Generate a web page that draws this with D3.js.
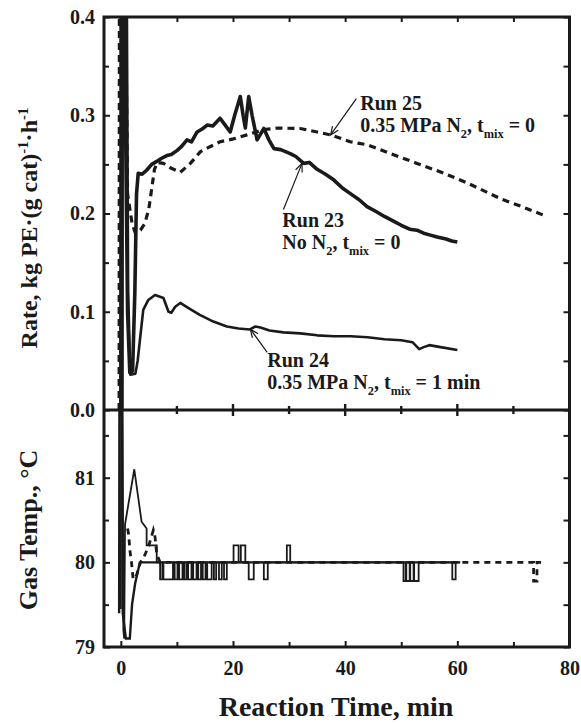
<!DOCTYPE html>
<html>
<head>
<meta charset="utf-8">
<script src="https://cdn.jsdelivr.net/npm/d3@7"></script>
<style>
  body { margin: 0; background: #fff; }
  svg text { font-family: "Liberation Serif", "Times New Roman", serif; font-weight: bold; fill: #1a1a1a; }
</style>
</head>
<body>
<div id="chart"></div>
<script>
// tick values
const timeTicks = [0, 20, 40, 60, 80];
const timeMinor = [10, 30, 50, 70];
const rateTicks = [0, 0.1, 0.2, 0.3, 0.4];
const rateMinor = [0.05, 0.15, 0.25, 0.35];
const tempTicks = [79, 80, 81];
const tempMinor = [79.5, 80.5, 81.5];

// rate curves [time min, kg PE/(g cat)/h]
const rate23 = [[0.0,0.0],[0.05,0.45],[0.55,0.45],[1.2,0.1],[1.6,0.038],[2.1,0.04],[2.5,0.12],[2.8,0.22],[3.1,0.241],[3.8,0.24],[4.6,0.244],[5.5,0.25],[6.4,0.253],[7.2,0.256],[8.2,0.259],[9,0.26],[10,0.264],[10.8,0.268],[11.8,0.275],[12.6,0.273],[13.6,0.283],[14.5,0.286],[15.4,0.29],[16.4,0.289],[17.7,0.297],[18.6,0.29],[19.5,0.283],[20.3,0.3],[21.3,0.319],[21.8,0.3],[22.2,0.287],[22.8,0.319],[23.4,0.3],[24.3,0.275],[25.5,0.2865],[26.4,0.275],[27.3,0.266],[28.5,0.265],[30.2,0.261],[31.2,0.258],[32.6,0.251],[33.6,0.252],[35,0.245],[36.5,0.24],[38,0.234],[39.5,0.226],[41,0.22],[42.5,0.214],[43.9,0.207],[45.5,0.202],[47,0.197],[48.7,0.192],[50,0.188],[51.5,0.184],[52.8,0.183],[54,0.18],[55.2,0.178],[56.4,0.176],[58,0.174],[59,0.172],[60,0.171]];
const rate24 = [[0.3,0.0],[0.35,0.45],[1.05,0.45],[1.3,0.12],[1.7,0.036],[2.6,0.037],[3.0,0.05],[3.4,0.071],[4.0,0.102],[4.9,0.112],[6.1,0.117],[7.6,0.114],[8.5,0.1],[9.0,0.099],[9.7,0.105],[10.6,0.109],[12,0.104],[14,0.097],[16.5,0.09],[18.9,0.085],[21,0.083],[23,0.082],[24,0.085],[24.9,0.084],[26.5,0.081],[29,0.079],[32,0.078],[35,0.076],[38,0.075],[41,0.075],[44,0.074],[47,0.072],[50,0.071],[52,0.069],[53.2,0.062],[54,0.064],[55,0.066],[57,0.064],[60,0.061]];
const rate25 = [[-0.3,0.0],[-0.25,0.45],[0.8,0.45],[1.2,0.22],[1.6,0.205],[2.0,0.19],[2.6,0.18],[3.5,0.183],[4.3,0.19],[5.0,0.205],[5.5,0.225],[6.0,0.245],[6.5,0.252],[7.6,0.251],[9,0.246],[10.6,0.242],[12.4,0.251],[14.2,0.263],[15.9,0.268],[17.7,0.273],[20.1,0.276],[22.5,0.28],[25.5,0.2855],[28,0.287],[32,0.2865],[35,0.283],[37.4,0.28],[40.9,0.273],[43.9,0.27],[48.1,0.261],[52.8,0.251],[57.6,0.241],[61.8,0.231],[67.7,0.215],[71.5,0.207],[75.5,0.198]];

// gas temperature curves [time min, deg C]
const temp23Start = [[0.0,79.45],[0.05,82],[0.3,82],[0.45,79.2],[0.6,79.1],[0.75,80.45],[2.4,81.1],[3.7,80.48],[4.6,80.4],[4.6,80.2],[6.4,80.2],[6.4,80.0],[7.0,80.0]];
// pulses off the 80 degC line: [from, to, level]
const temp23Pulses = [[7.0,7.4,79.8],[7.6,9.3,79.8],[9.6,10.1,79.8],[10.4,11.0,79.8],[11.3,11.7,79.8],[12.0,12.6,79.8],[12.9,13.5,79.8],[13.8,14.3,79.8],[14.6,15.1,79.8],[15.4,16.2,79.8],[16.6,17.0,79.8],[17.5,18.0,79.8],[18.4,18.9,79.8],[20.1,21.0,80.2],[21.4,22.2,80.2],[22.8,23.7,79.8],[25.5,26.2,79.8],[29.6,30.2,80.2],[50.4,50.8,79.78],[50.9,51.5,79.78],[51.6,52.2,79.78],[52.3,53.1,79.78],[59.1,59.7,79.8]];
const temp23End = 60.5;
const temp24 = [[-0.3,79.4],[-0.25,82],[0.2,82],[0.35,79.4],[0.9,79.1],[1.6,79.1],[2.0,79.5],[2.55,79.75],[3.4,80.0],[60.5,80.0]];
const temp25 = [[1.2,80.4],[1.4,80.33],[1.6,80.15],[1.9,80.0],[2.2,79.8],[2.8,79.85],[3.5,80.0],[4.3,80.09],[5.0,80.2],[5.8,80.38],[6.1,80.3],[6.4,80.1],[7,80.0],[73.6,80.0],[73.6,79.78],[74.2,79.78],[74.2,80.0],[75.5,80.0]];

const width = 581, height = 724;
const svg = d3.select('#chart').append('svg').attr('width', width).attr('height', height);

const x = d3.scaleLinear().domain([-3, 80]).range([104, 569.5]);
const yRate = d3.scaleLinear().domain([0, 0.4]).range([410, 17]);
const yTemp = d3.scaleLinear().domain([79, 81.8]).range([647, 410]);
const ink = '#1a1a1a';

svg.append('clipPath').attr('id', 'cTop').append('rect')
  .attr('x', x(-3)).attr('y', yRate(0.4)).attr('width', x(80) - x(-3)).attr('height', yRate(0) - yRate(0.4));
svg.append('clipPath').attr('id', 'cBot').append('rect')
  .attr('x', x(-3)).attr('y', yTemp(81.8)).attr('width', x(80) - x(-3)).attr('height', yTemp(79) - yTemp(81.8));

// curves
const lineR = d3.line().x(d => x(d[0])).y(d => yRate(d[1]));
const lineT = d3.line().x(d => x(d[0])).y(d => yTemp(d[1]));

const gTop = svg.append('g').attr('clip-path', 'url(#cTop)').attr('fill', 'none').attr('stroke', ink).attr('stroke-linejoin', 'round');
gTop.append('path').attr('d', lineR(rate25)).attr('stroke-width', 3.2).attr('stroke-dasharray', '7,5');
gTop.append('path').attr('d', lineR(rate24)).attr('stroke-width', 2.6);
gTop.append('path').attr('d', lineR(rate23)).attr('stroke-width', 3.6);

const temp23 = temp23Start.slice();
temp23Pulses.forEach(p => { temp23.push([p[0], 80], [p[0], p[2]], [p[1], p[2]], [p[1], 80]); });
temp23.push([temp23End, 80]);

const gBot = svg.append('g').attr('clip-path', 'url(#cBot)').attr('fill', 'none').attr('stroke', ink);
gBot.append('path').attr('d', lineT(temp25)).attr('stroke-width', 2.8).attr('stroke-dasharray', '6,5');
gBot.append('path').attr('d', lineT(temp24)).attr('stroke-width', 2.4);
gBot.append('path').attr('d', lineT(temp23)).attr('stroke-width', 1.8);

// axes
function clean(g) { g.select('.domain').remove(); g.selectAll('line').attr('stroke', ink).attr('stroke-width', 2); }
function labels(g) { g.selectAll('text').attr('font-size', 20).attr('fill', ink).style('font-family', '"Liberation Serif", serif').style('font-weight', 'bold'); }

svg.append('g').attr('transform', `translate(${x(-3)},0)`)
  .call(d3.axisLeft(yRate).tickValues(rateTicks).tickSize(-6).tickPadding(9).tickFormat(d3.format('.1f'))).call(clean).call(labels);
svg.append('g').attr('transform', `translate(${x(-3)},0)`)
  .call(d3.axisLeft(yRate).tickValues(rateMinor).tickSize(-5).tickFormat('')).call(clean);
svg.append('g').attr('transform', `translate(${x(80)},0)`)
  .call(d3.axisRight(yRate).tickValues(rateTicks.concat(rateMinor)).tickSize(-6).tickFormat('')).call(clean);

svg.append('g').attr('transform', `translate(${x(-3)},0)`)
  .call(d3.axisLeft(yTemp).tickValues(tempTicks).tickSize(-6).tickPadding(9).tickFormat(d3.format('d'))).call(clean).call(labels);
svg.append('g').attr('transform', `translate(${x(-3)},0)`)
  .call(d3.axisLeft(yTemp).tickValues(tempMinor).tickSize(-5).tickFormat('')).call(clean);
svg.append('g').attr('transform', `translate(${x(80)},0)`)
  .call(d3.axisRight(yTemp).tickValues(tempTicks.concat(tempMinor)).tickSize(-6).tickFormat('')).call(clean);

svg.append('g').attr('transform', `translate(0,${yRate(0.4)})`)
  .call(d3.axisTop(x).tickValues(timeTicks.concat(timeMinor).filter(d => d < 80)).tickSize(-5).tickFormat('')).call(clean);
svg.append('g').attr('transform', `translate(0,${yTemp(79)})`)
  .call(d3.axisBottom(x).tickValues(timeTicks).tickSize(-6).tickPadding(14).tickFormat(d3.format('d'))).call(clean).call(labels);
svg.append('g').attr('transform', `translate(0,${yTemp(79)})`)
  .call(d3.axisBottom(x).tickValues(timeMinor).tickSize(-5).tickFormat('')).call(clean);

// shared middle axis, ticks on both sides
const mid = yRate(0);
svg.append('g').selectAll('line').data(timeTicks.filter(d => d < 80).map(d => [d, 6]).concat(timeMinor.map(d => [d, 4])))
  .join('line')
  .attr('x1', d => x(d[0])).attr('x2', d => x(d[0]))
  .attr('y1', d => mid - d[1]).attr('y2', d => mid + d[1])
  .attr('stroke', ink).attr('stroke-width', 2.4);

// frame
svg.append('rect').attr('x', x(-3)).attr('y', yRate(0.4)).attr('width', x(80) - x(-3)).attr('height', yTemp(79) - yRate(0.4))
  .attr('fill', 'none').attr('stroke', ink).attr('stroke-width', 3);
svg.append('line').attr('x1', x(-3)).attr('x2', x(80)).attr('y1', mid).attr('y2', mid)
  .attr('stroke', ink).attr('stroke-width', 3);

// rich text helper: parts are [text, 'sub'|'sup'|undefined]
function rich(sel, parts, size) {
  let back = 0;
  parts.forEach(p => {
    const ts = sel.append('tspan').text(p[0]);
    if (p[1] === 'sub' || p[1] === 'sup') {
      const off = p[1] === 'sub' ? size * 0.28 : -size * 0.38;
      ts.attr('font-size', size * 0.62).attr('dy', back + off);
      back = -off;
    } else {
      ts.attr('font-size', size);
      if (back) ts.attr('dy', back);
      back = 0;
    }
  });
}

// axis titles
const tRate = svg.append('text').attr('transform', 'translate(37,228) rotate(-90)').attr('text-anchor', 'middle');
rich(tRate, [['Rate, kg PE\u00b7(g cat)'], ['-1', 'sup'], ['\u00b7h'], ['-1', 'sup']], 24);
svg.append('text').attr('transform', 'translate(37,530) rotate(-90)').attr('text-anchor', 'middle').attr('font-size', 26)
  .text('Gas Temp., \u00b0C');
svg.append('text').attr('x', 336).attr('y', 716).attr('text-anchor', 'middle').attr('font-size', 28)
  .text('Reaction Time, min');

// annotations (positions in data units)
const notes = [
  { t: 42.7, r: 0.305, tip: [37.4, 0.28], tail: [42.0, 0.317],
    lines: [[['Run 25']], [['0.35 MPa N'], ['2', 'sub'], [', t'], ['mix', 'sub'], [' = 0']]] },
  { t: 28.8, r: 0.186, tip: [32.3, 0.251], tail: [29.0, 0.204],
    lines: [[['Run 23']], [['No N'], ['2', 'sub'], [', t'], ['mix', 'sub'], [' = 0']]] },
  { t: 26.1, r: 0.0437, tip: [23.1, 0.0823], tail: [26.1, 0.0587],
    lines: [[['Run 24']], [['0.35 MPa N'], ['2', 'sub'], [', t'], ['mix', 'sub'], [' = 1 min']]] }
];

notes.forEach(n => {
  n.lines.forEach((ln, i) => {
    const t = svg.append('text').attr('x', x(n.t)).attr('y', yRate(n.r) + i * 22).attr('font-size', 20);
    rich(t, ln, 20);
  });
  const x1 = x(n.tail[0]), y1 = yRate(n.tail[1]), x2 = x(n.tip[0]), y2 = yRate(n.tip[1]);
  svg.append('line').attr('x1', x1).attr('y1', y1).attr('x2', x2).attr('y2', y2).attr('stroke', ink).attr('stroke-width', 1.2);
  const a = Math.atan2(y2 - y1, x2 - x1), h = 9, s = 0.4;
  svg.append('path')
    .attr('d', `M${x2 - h * Math.cos(a - s)},${y2 - h * Math.sin(a - s)}L${x2},${y2}L${x2 - h * Math.cos(a + s)},${y2 - h * Math.sin(a + s)}`)
    .attr('fill', 'none').attr('stroke', ink).attr('stroke-width', 1.2);
});
</script>
</body>
</html>
